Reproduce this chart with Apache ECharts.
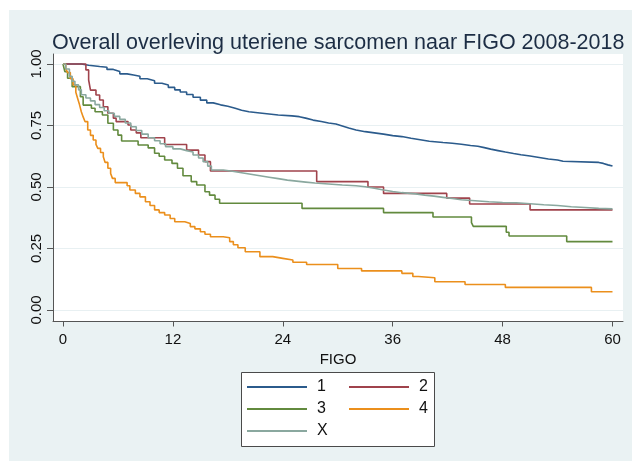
<!DOCTYPE html>
<html><head><meta charset="utf-8">
<script src="https://cdn.jsdelivr.net/npm/echarts@6/dist/echarts.min.js"></script>
<style>
html,body{margin:0;padding:0;background:#fff;}
#bg{position:absolute;left:9px;top:10px;width:623px;height:451px;background:#eaf2f3;}
#chart{position:absolute;left:0;top:0;width:632px;height:461px;}
</style></head><body><div id="bg"></div><div id="chart"></div>
<script>
const titleText = 'Overall overleving uteriene sarcomen naar FIGO 2008-2018';
const xTicks = [0, 12, 24, 36, 48, 60];
const yTicks = [0, 0.25, 0.5, 0.75, 1];
const seriesNames = ['1', '2', '3', '4', 'X'];
const seriesColors = ['#2b5b8c', '#a0434c', '#628a3e', '#eb8f1c', '#8aa89f'];

const stage1 = [[0,1.0],[2.0,0.995],[2.8,0.99],[4.0,0.987],[4.8,0.978],[5.5,0.97],[6.2,0.96],[7.0,0.955],[7.7,0.95],[8.4,0.94],[9.2,0.932],[10.0,0.922],[10.8,0.915],[11.5,0.905],[12.2,0.895],[12.8,0.886],[13.5,0.876],[14.2,0.865],[15.0,0.853],[15.7,0.842],[16.4,0.834],[17.2,0.828],[18.0,0.82],[18.8,0.812],[19.5,0.806],[20.3,0.801],[21.5,0.797],[22.5,0.793],[23.5,0.789],[25.0,0.786],[25.8,0.78],[26.5,0.772],[27.3,0.766],[28.2,0.76],[29.0,0.756],[29.8,0.748],[30.5,0.74],[31.2,0.732],[32.0,0.725],[33.0,0.72],[34.0,0.715],[35.0,0.709],[36.0,0.705],[37.0,0.698],[38.0,0.692],[39.0,0.686],[40.0,0.681],[41.5,0.678],[42.5,0.674],[43.5,0.669],[44.5,0.666],[45.3,0.66],[46.0,0.654],[46.7,0.648],[47.5,0.642],[48.3,0.636],[49.2,0.631],[50.0,0.626],[51.0,0.62],[52.0,0.614],[53.0,0.61],[54.0,0.605],[54.6,0.6],[58.5,0.596],[59.0,0.59],[59.5,0.585],[60,0.583]];

const stage2 = [[0,1.0],[2.5,0.976],[2.8,0.935],[3.0,0.894],[3.6,0.874],[4.0,0.854],[4.4,0.826],[4.9,0.8],[5.5,0.78],[5.8,0.766],[7.1,0.752],[7.4,0.732],[8.0,0.72],[8.5,0.7],[11.1,0.673],[13.5,0.65],[14.8,0.63],[15.5,0.603],[16.1,0.565],[27.7,0.522],[33.3,0.5],[35.0,0.474],[41.9,0.455],[44.4,0.431],[51.0,0.407],[60,0.407]];

const stage3 = [[0,1.0],[0.2,0.969],[0.5,0.942],[1.0,0.908],[1.9,0.867],[2.2,0.833],[3.1,0.82],[3.5,0.806],[4.3,0.793],[4.9,0.759],[5.5,0.732],[6.0,0.711],[6.4,0.687],[8.2,0.671],[9.3,0.659],[10.0,0.637],[10.5,0.625],[11.1,0.61],[11.9,0.596],[12.5,0.576],[13.1,0.546],[14.0,0.522],[14.6,0.508],[15.5,0.481],[16.0,0.467],[16.6,0.45],[17.1,0.434],[26.1,0.413],[35.0,0.396],[40.4,0.378],[44.6,0.355],[44.8,0.34],[48.4,0.316],[48.7,0.301],[55.0,0.278],[60,0.278]];

const stage4 = [[0,1.0],[0.3,0.98],[0.5,0.965],[0.8,0.94],[1.1,0.915],[1.4,0.885],[1.6,0.86],[1.8,0.835],[2.0,0.806],[2.2,0.785],[2.4,0.766],[2.7,0.732],[3.0,0.71],[3.3,0.691],[3.6,0.673],[3.8,0.657],[4.1,0.64],[4.4,0.623],[4.6,0.6],[4.9,0.576],[5.2,0.555],[5.4,0.535],[5.7,0.518],[7.0,0.505],[7.3,0.488],[7.9,0.474],[8.4,0.46],[9.0,0.44],[9.5,0.425],[10.0,0.407],[10.5,0.396],[11.1,0.386],[11.7,0.372],[12.2,0.359],[13.3,0.352],[13.9,0.339],[14.4,0.33],[15.0,0.318],[15.5,0.308],[16.1,0.298],[17.5,0.294],[18.2,0.278],[18.6,0.265],[19.1,0.253],[19.9,0.237],[21.5,0.217],[22.9,0.21],[24.0,0.203],[25.1,0.194],[26.6,0.185],[30.0,0.169],[32.6,0.159],[37.0,0.149],[38.2,0.136],[38.8,0.131],[40.6,0.115],[43.9,0.104],[48.3,0.092],[57.7,0.074],[60,0.074]];

const stageX = [[0,1.0],[0.3,0.98],[0.7,0.95],[1.0,0.93],[1.3,0.915],[1.7,0.895],[2.0,0.875],[2.5,0.862],[3.0,0.85],[3.5,0.835],[4.0,0.823],[4.5,0.81],[5.0,0.8],[5.6,0.787],[6.2,0.775],[6.8,0.76],[7.4,0.745],[8.0,0.73],[8.6,0.715],[9.3,0.7],[10.0,0.688],[10.6,0.676],[11.2,0.664],[12.0,0.655],[12.8,0.648],[13.5,0.642],[14.2,0.63],[14.8,0.618],[15.3,0.603],[15.8,0.585],[16.2,0.569],[17.5,0.564],[18.5,0.558],[19.5,0.552],[20.5,0.546],[21.5,0.54],[22.5,0.534],[23.5,0.528],[24.5,0.524],[25.5,0.52],[26.5,0.516],[27.5,0.512],[29.0,0.508],[30.5,0.505],[32.0,0.501],[33.0,0.495],[34.0,0.488],[35.0,0.482],[36.0,0.477],[37.0,0.472],[38.5,0.467],[39.5,0.463],[40.5,0.458],[41.5,0.453],[42.5,0.448],[43.5,0.444],[45.0,0.44],[46.5,0.437],[48.0,0.436],[49.5,0.432],[51.0,0.428],[52.5,0.425],[54.0,0.42],[55.5,0.417],[57.0,0.413],[58.5,0.411],[60,0.41]];

const allData = [stage1, stage2, stage3, stage4, stageX];
const FONT = 'Liberation Sans, Arial, sans-serif';

const chart = echarts.init(document.getElementById('chart'), null, {renderer: 'canvas'});
chart.setOption({
  animation: false,
  backgroundColor: 'transparent',
  textStyle: {fontFamily: FONT},
  title: {
    text: titleText, left: 47, top: 27,
    textStyle: {fontFamily: FONT, fontSize: 21.5, fontWeight: 'normal', color: '#1c2d44'}
  },
  graphic: [{
    type: 'rect', left: 241, top: 372, z: 1,
    shape: {width: 193, height: 74},
    style: {fill: '#fff', stroke: '#4a4a4a', lineWidth: 1}
  }],
  legend: [
    {data: ['1', '3', 'X'], orient: 'vertical', left: 247, top: 379, padding: 0,
     icon: 'rect', itemWidth: 60, itemHeight: 2, itemGap: 6,
     textStyle: {fontFamily: FONT, fontSize: 16, color: '#111', padding: [0, 0, 0, 5]}},
    {data: ['2', '4'], orient: 'vertical', left: 349, top: 379, padding: 0,
     icon: 'rect', itemWidth: 60, itemHeight: 2, itemGap: 6,
     textStyle: {fontFamily: FONT, fontSize: 16, color: '#111', padding: [0, 0, 0, 5]}}
  ],
  grid: {left: 53, right: 9, top: 54, bottom: 139.5, show: true, backgroundColor: '#fff', borderWidth: 0, containLabel: false},
  xAxis: {
    type: 'value', min: -1.092, max: 61.147,
    name: 'FIGO', nameLocation: 'middle', nameGap: 26,
    nameTextStyle: {fontFamily: FONT, fontSize: 15, color: '#111'},
    axisLine: {onZero: false, lineStyle: {color: '#555', width: 1}},
    axisTick: {customValues: xTicks, length: 5, lineStyle: {color: '#555'}},
    axisLabel: {customValues: xTicks, margin: 11, fontFamily: FONT, fontSize: 15, color: '#111'},
    splitLine: {show: false}
  },
  yAxis: {
    type: 'value', min: -0.0467, max: 1.0407,
    axisLine: {show: true, onZero: false, lineStyle: {color: '#555', width: 1}},
    axisTick: {show: true, customValues: yTicks, length: 6, lineStyle: {color: '#555'}},
    axisLabel: {customValues: yTicks, rotate: 90, margin: 9, fontFamily: FONT, fontSize: 15, color: '#111',
      formatter: v => v.toFixed(2)},
    splitLine: {show: true, lineStyle: {color: '#e8f0f2', width: 1}}
  },
  series: seriesNames.map((n, i) => ({
    name: n, type: 'line', step: 'end', data: allData[i],
    symbol: 'none', showSymbol: false,
    lineStyle: {color: seriesColors[i], width: 1.6},
    itemStyle: {color: seriesColors[i]}
  }))
});
</script></body></html>
